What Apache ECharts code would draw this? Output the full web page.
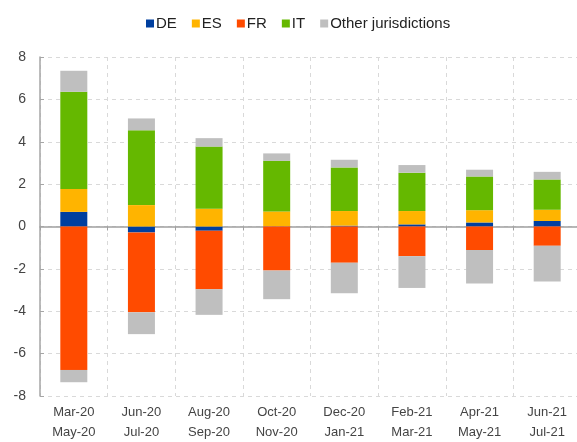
<!DOCTYPE html>
<html>
<head>
<meta charset="utf-8">
<script src="https://cdn.jsdelivr.net/npm/echarts@6/dist/echarts.min.js"></script>
<style>
    html, body { margin: 0; padding: 0; background: #fff; }
    #chart { width: 577px; height: 442px; }
</style>
</head>
<body>
<div id="chart"></div>
<script>
    // periods (two-month windows)
    var categories = ['Mar-20\nMay-20', 'Jun-20\nJul-20', 'Aug-20\nSep-20', 'Oct-20\nNov-20',
                      'Dec-20\nJan-21', 'Feb-21\nMar-21', 'Apr-21\nMay-21', 'Jun-21\nJul-21'];
    var deVals = [0.69, -0.28, -0.20, 0.01, 0.04, 0.10, 0.19, 0.26];
    var esVals = [1.08, 1.01, 0.84, 0.70, 0.69, 0.63, 0.58, 0.53];
    var frVals = [-6.77, -3.77, -2.76, -2.08, -1.71, -1.40, -1.11, -0.91];
    var itVals = [4.59, 3.53, 2.93, 2.39, 2.06, 1.81, 1.59, 1.43];
    var otherPos = [0.99, 0.56, 0.40, 0.35, 0.36, 0.36, 0.32, 0.36];
    var otherNeg = [-0.58, -1.03, -1.21, -1.35, -1.44, -1.50, -1.58, -1.69];
    var yTicks = [-8, -6, -4, -2, 0, 2, 4, 6, 8];

    var FONT = 'Liberation Sans, Arial, sans-serif';
    var colors = { DE: '#003f9f', ES: '#ffb400', FR: '#ff4b00', IT: '#65b800', OTH: '#bfbfbf' };

    var chart = echarts.init(document.getElementById('chart'));

    let bar = (name, data, color) => ({
        name: name,
        type: 'bar',
        stack: 'all',
        xAxisIndex: 0,
        barWidth: 27,
        data: data,
        itemStyle: { color: color },
        emphasis: { disabled: true }
    });

    var option = {
        animation: false,
        legend: {
            top: 11,
            left: 141,
            itemWidth: 8,
            itemHeight: 8,
            itemGap: 15,
            icon: 'rect',
            textStyle: { fontFamily: FONT, fontSize: 15, color: '#222', padding: [0, 0, 0, -3] },
            data: ['DE', 'ES', 'FR', 'IT', 'Other jurisdictions']
        },
        grid: { left: 40, top: 57, width: 541, height: 339, outerBoundsMode: 'none', containLabel: false },
        xAxis: [{
            type: 'category',
            data: categories,
            position: 'bottom',
            axisLine: { show: false, onZero: false },
            axisTick: { show: false },
            axisLabel: { fontFamily: FONT, fontSize: 13, color: '#444', margin: 6, lineHeight: 20 },
            splitLine: { show: true, lineStyle: { color: '#d9d9d9', type: [4, 4] } }
        }, {
            type: 'category',
            data: categories,
            position: 'bottom',
            axisLine: { show: true, onZero: true, lineStyle: { color: '#a0a0a0', width: 1.5 } },
            axisTick: { show: true, length: 4, lineStyle: { color: '#a0a0a0' } },
            axisLabel: { show: false },
            splitLine: { show: false }
        }],
        yAxis: {
            type: 'value',
            min: yTicks[0],
            max: yTicks[yTicks.length - 1],
            interval: 2,
            axisLine: { show: true, lineStyle: { color: '#a6a6a6', width: 1.5 } },
            axisTick: { show: true, inside: true, length: 4, lineStyle: { color: '#a6a6a6' } },
            axisLabel: { fontFamily: FONT, fontSize: 14, color: '#444', margin: 14 },
            splitLine: { show: true, lineStyle: { color: '#d9d9d9', type: [4, 4] } }
        },
        series: [
            bar('DE', deVals, colors.DE),
            bar('ES', esVals, colors.ES),
            bar('FR', frVals, colors.FR),
            bar('IT', itVals, colors.IT),
            bar('Other jurisdictions', otherPos, colors.OTH),
            bar('Other jurisdictions', otherNeg, colors.OTH)
        ]
    };
    chart.setOption(option);
</script>
</body>
</html>
